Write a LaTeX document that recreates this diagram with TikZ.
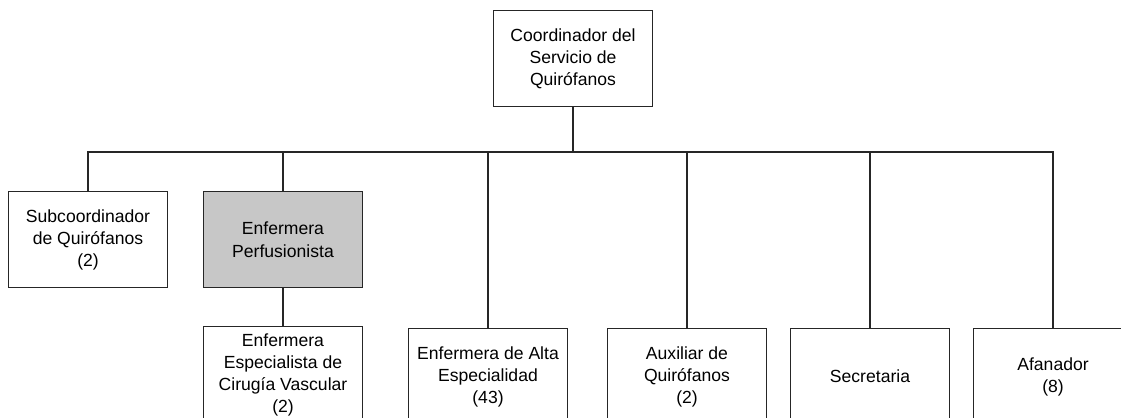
\documentclass[tikz,border=0pt]{standalone}
\usepackage{fontspec}
\setmainfont{Liberation Sans}
\begin{document}
\begin{tikzpicture}[x=0.02cm, y=-0.02cm,
    every node/.style={font=\fontsize{10}{12.6}\selectfont},
    puesto/.style={draw=black!85, line width=0.8pt, align=center, anchor=north,
        minimum width=3.18cm, minimum height=1.92cm, inner sep=2pt},
    enlace/.style={draw=black!85, line width=0.8pt}]
    \useasboundingbox (0,0) rectangle (1121,417);

    % Jefatura
    \node[puesto] (coord) at (573,10) {Coordinador del\\ Servicio de\\ Quirófanos};

    % Primer nivel
    \node[puesto] (sub)  at (88,191)  {Subcoordinador\\ de Quirófanos\\ (2)};
    \node[puesto, fill=black!22] (perf) at (283,191) {Enfermera\\ Perfusionista};

    % Segundo nivel
    \node[puesto] (cir)  at (283,326)  {Enfermera\\ Especialista de\\ Cirugía Vascular\\ (2)};
    \node[puesto] (alta) at (488,328)  {Enfermera de Alta\\ Especialidad\\ (43)};
    \node[puesto] (aux)  at (687,328)  {Auxiliar de\\ Quirófanos\\ (2)};
    \node[puesto] (sec)  at (870,328)  {Secretaria};
    \node[puesto] (afa)  at (1053,328) {Afanador\\ (8)};

    % Conectores
    \coordinate (bus) at (0,152);
    \foreach \n in {sub,perf,alta,aux,sec,afa}
        \draw[enlace] (coord.south) |- (bus -| \n.north) -- (\n.north);
    \draw[enlace] (perf.south) -- (cir.north);
\end{tikzpicture}
\end{document}
